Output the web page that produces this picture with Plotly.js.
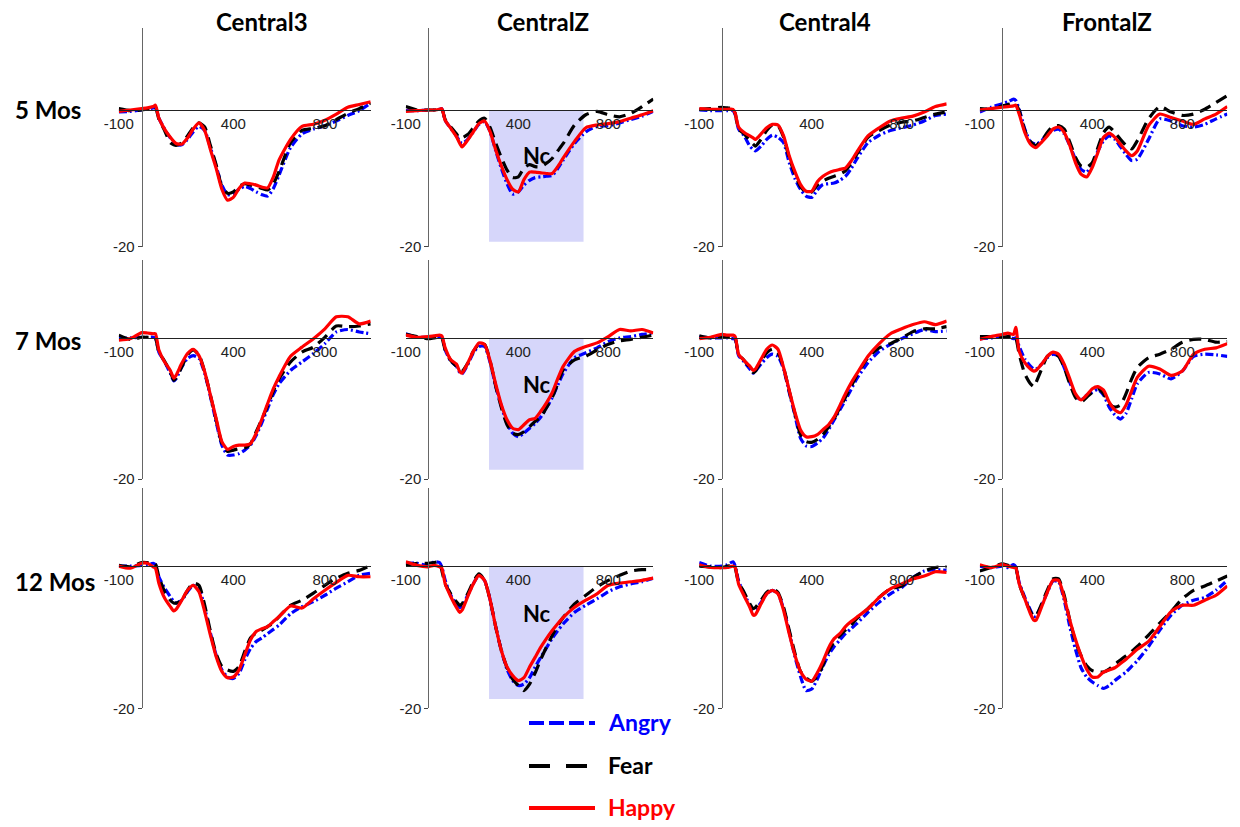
<!DOCTYPE html>
<html><head><meta charset="utf-8">
<script src="https://cdn.plot.ly/plotly-3.0.1.min.js"></script>
<style>html,body{margin:0;padding:0;background:#fff;}#chart{width:1240px;height:827px;}</style>
</head><body><div id="chart"></div>
<script>
// ---------- DATA ----------
const timeMs = [-100,-50,0,25,50,60,75,100,125,140,150,175,200,225,250,275,300,325,350,375,400,425,450,475,500,525,550,575,600,650,700,750,800,850,900,950,1000];
const electrodes = ['Central3','CentralZ','Central4','FrontalZ'];
const ages = ['5 Mos','7 Mos','12 Mos'];
const emotions = ['Angry','Fear','Happy'];
const xTickVals = [-100,400,800];
const xTickText = ['-100','400','800'];
const yTickVals = [-20];
const yTickText = ['-20'];
const ncLabel = 'Nc';

// 5 months
const m5_C3_angry = [-0.3,-0.2,0.0,0.1,0.3,0.4,-1.2,-2.8,-4.1,-4.7,-5.0,-5.1,-4.3,-3.2,-2.4,-3.0,-5.5,-8.2,-11.0,-12.4,-12.3,-11.6,-11.2,-11.5,-12.0,-12.4,-12.6,-11.5,-9.5,-5.5,-3.5,-2.8,-2.3,-1.6,-0.8,-0.1,1.0];
const m5_C3_fear  = [0.2,-0.1,0.0,0.1,0.3,0.4,-1.3,-3.0,-4.8,-5.1,-5.2,-4.8,-3.8,-2.6,-1.9,-2.5,-5.2,-8.0,-11.2,-12.2,-12.0,-11.2,-10.8,-11.0,-11.2,-11.5,-11.7,-10.8,-9.0,-4.8,-3.0,-2.7,-2.3,-1.4,-0.5,0.2,1.0];
const m5_C3_happy = [-0.2,0.0,0.2,0.3,0.5,0.7,-1.2,-2.8,-4.0,-4.6,-4.9,-5.0,-4.1,-2.8,-1.9,-3.0,-5.8,-8.5,-11.6,-13.2,-12.8,-11.5,-10.7,-10.8,-11.0,-11.3,-11.4,-9.8,-7.3,-4.3,-2.4,-2.1,-1.5,-0.6,0.4,0.8,1.2];
const m5_CZ_angry = [-0.1,-0.1,0.0,0.0,0.1,0.2,-1.5,-2.7,-3.8,-4.6,-4.9,-4.3,-3.2,-2.1,-1.7,-3.2,-6.0,-8.6,-10.8,-12.3,-12.0,-11.0,-10.3,-9.9,-9.8,-9.7,-9.6,-8.6,-7.3,-4.9,-3.2,-2.4,-2.3,-1.9,-1.4,-0.9,-0.2];
const m5_CZ_fear  = [0.5,0.0,0.0,0.0,0.1,0.2,-1.4,-2.5,-3.5,-4.1,-4.1,-3.6,-2.6,-1.6,-1.2,-2.6,-4.9,-7.0,-8.8,-9.9,-9.8,-8.5,-8.0,-8.3,-8.3,-7.8,-7.1,-6.0,-4.9,-2.2,-0.7,-0.2,-0.7,-1.0,-0.5,0.5,1.6];
const m5_CZ_happy = [-0.2,-0.1,0.0,0.0,0.1,0.2,-1.5,-2.7,-3.9,-4.9,-5.4,-4.4,-3.2,-2.0,-1.6,-3.2,-5.9,-8.2,-10.2,-11.6,-12.0,-10.2,-9.1,-9.1,-9.2,-9.3,-9.3,-8.3,-7.0,-4.6,-2.6,-2.2,-2.0,-1.7,-1.2,-0.7,-0.1];
const m5_C4_angry = [0.0,-0.1,-0.1,-0.1,-0.1,-0.7,-2.8,-3.8,-5.3,-5.8,-6.0,-5.3,-4.3,-3.7,-4.0,-4.8,-7.7,-10.0,-11.6,-12.6,-12.8,-11.7,-10.9,-10.8,-10.7,-10.3,-9.7,-8.6,-7.2,-4.8,-3.7,-3.0,-2.6,-2.2,-1.6,-0.8,-0.6];
const m5_C4_fear  = [0.1,0.2,0.4,0.3,0.2,-0.5,-2.8,-3.5,-4.5,-5.0,-5.3,-4.3,-3.0,-2.2,-2.3,-4.0,-7.0,-9.3,-11.2,-12.0,-12.0,-11.0,-10.4,-10.0,-9.7,-9.4,-8.9,-7.8,-6.5,-4.0,-3.0,-2.2,-1.8,-1.6,-1.1,-0.6,-0.3];
const m5_C4_happy = [0.2,0.1,0.1,0.1,0.1,-0.5,-2.5,-3.3,-3.8,-4.1,-4.3,-3.5,-2.6,-2.1,-2.2,-3.8,-6.7,-9.0,-10.9,-11.9,-11.9,-10.5,-9.7,-9.2,-8.9,-8.7,-8.5,-7.5,-6.2,-3.8,-2.6,-1.6,-1.2,-0.9,-0.3,0.5,0.9];
const m5_FZ_angry = [-0.3,0.4,0.9,1.2,1.6,1.4,0.1,-2.8,-4.7,-4.9,-5.0,-4.5,-3.5,-3.0,-2.8,-3.5,-5.2,-7.2,-8.7,-9.1,-7.9,-6.0,-4.5,-3.8,-4.3,-5.4,-6.5,-7.4,-7.2,-4.3,-1.3,-1.6,-2.3,-2.5,-2.1,-1.3,-0.6];
const m5_FZ_fear  = [0.2,0.1,0.6,0.8,1.0,0.8,-0.1,-3.0,-4.6,-5.1,-5.2,-4.5,-3.3,-2.4,-2.3,-2.8,-4.7,-6.9,-8.2,-8.4,-7.7,-5.5,-3.3,-2.5,-3.3,-4.3,-5.2,-5.7,-4.5,-1.3,0.5,-0.3,-0.8,-0.6,0.1,1.1,2.1];
const m5_FZ_happy = [0.0,0.2,0.4,0.5,0.6,0.7,-0.6,-3.3,-5.0,-5.4,-5.5,-4.7,-3.8,-2.8,-2.5,-3.3,-5.2,-7.7,-9.4,-9.8,-8.4,-6.2,-4.0,-3.4,-4.0,-5.0,-6.0,-6.7,-6.0,-2.3,-0.6,-1.1,-1.6,-2.1,-1.3,-0.6,0.5];

// 7 months
const m7_C3_angry = [-0.1,0.0,0.1,0.1,0.1,0.0,-2.0,-3.4,-5.0,-6.1,-5.8,-4.1,-2.9,-2.5,-2.9,-5.0,-8.3,-11.9,-15.2,-16.6,-16.6,-16.4,-15.9,-15.2,-13.8,-12.0,-10.0,-8.0,-6.5,-4.6,-3.4,-2.2,-0.8,0.85,1.2,0.85,0.6];
const m7_C3_fear  = [0.4,-0.2,0.1,0.1,0.1,0.0,-2.0,-3.3,-4.8,-6.0,-5.7,-4.1,-2.4,-1.7,-2.4,-4.8,-8.1,-11.6,-14.9,-16.1,-15.9,-15.7,-15.6,-15.0,-13.3,-11.5,-9.6,-7.5,-5.8,-3.4,-2.0,-1.3,0.1,1.7,1.6,1.7,2.0];
const m7_C3_happy = [-0.3,-0.1,0.75,0.7,0.6,0.6,-1.7,-3.4,-4.6,-5.7,-5.3,-3.6,-2.2,-1.6,-2.5,-4.8,-8.1,-11.4,-14.7,-15.8,-15.4,-15.2,-15.2,-15.0,-13.5,-11.5,-9.3,-7.2,-5.5,-2.6,-1.3,-0.1,1.3,3.0,3.0,2.0,2.4];
const m7_CZ_angry = [0.6,0.1,0.1,0.2,0.2,0.1,-1.7,-3.3,-4.0,-4.9,-5.1,-3.8,-2.1,-1.2,-1.2,-3.5,-6.9,-9.7,-12.1,-13.5,-14.0,-13.5,-12.8,-12.1,-11.2,-9.9,-8.5,-6.7,-5.0,-2.8,-2.1,-1.4,-0.5,0.0,0.2,0.5,0.7];
const m7_CZ_fear  = [0.5,0.2,-0.1,0.0,0.1,0.0,-1.7,-3.2,-4.0,-4.6,-4.7,-3.6,-1.9,-0.9,-0.9,-3.3,-6.9,-9.9,-12.3,-13.5,-13.7,-13.3,-12.6,-11.8,-11.2,-9.9,-8.5,-6.5,-4.5,-3.1,-2.6,-1.7,-0.9,-0.4,-0.2,0.1,0.4];
const m7_CZ_happy = [0.4,0.1,0.2,0.3,0.4,0.3,-1.4,-3.1,-3.7,-4.8,-5.0,-3.6,-1.9,-0.7,-0.9,-3.3,-6.6,-9.5,-11.6,-12.8,-13.0,-12.3,-11.6,-11.4,-10.4,-9.2,-7.8,-5.8,-4.0,-1.9,-1.2,-0.7,0.2,1.2,1.0,1.2,0.7];
const m7_C4_angry = [0.2,0.0,0.0,0.0,-0.1,-0.2,-2.5,-3.4,-4.4,-5.0,-4.7,-3.7,-2.8,-2.3,-2.6,-4.4,-7.7,-10.9,-14.2,-15.3,-15.4,-14.9,-14.2,-13.0,-11.6,-10.2,-8.8,-7.3,-5.8,-3.5,-1.9,-0.9,-0.1,0.6,1.2,0.9,1.0];
const m7_C4_fear  = [0.3,0.0,0.2,0.2,0.2,0.0,-2.3,-3.2,-4.2,-4.9,-4.7,-3.3,-2.1,-1.6,-2.1,-4.2,-7.5,-10.7,-13.7,-14.7,-14.8,-14.4,-13.7,-12.6,-11.4,-9.9,-8.4,-6.9,-5.3,-2.8,-1.4,-0.8,0.0,0.9,1.3,1.3,1.6];
const m7_C4_happy = [-0.1,0.1,0.5,0.4,0.4,0.2,-2.3,-3.2,-4.0,-4.6,-4.4,-3.0,-1.6,-1.0,-1.6,-4.2,-7.4,-10.5,-13.0,-14.0,-14.0,-13.7,-13.0,-12.3,-11.2,-9.6,-7.9,-6.4,-5.1,-2.6,-0.8,0.6,1.3,1.9,2.3,1.9,2.4];
const m7_FZ_angry = [-0.1,0.0,0.2,0.2,-0.1,0.0,-1.2,-3.0,-4.0,-4.4,-4.4,-3.7,-2.8,-2.3,-2.6,-4.2,-6.3,-8.1,-8.8,-8.1,-7.7,-7.3,-8.1,-9.8,-10.9,-11.5,-10.7,-8.6,-6.5,-4.9,-5.1,-5.8,-4.7,-2.6,-2.3,-2.4,-2.6];
const m7_FZ_fear  = [0.2,0.2,0.1,0.2,0.2,0.0,-2.3,-5.1,-6.5,-6.9,-6.3,-4.4,-2.6,-2.1,-2.6,-4.2,-6.5,-8.4,-9.1,-8.4,-7.7,-7.2,-7.9,-9.3,-9.8,-9.5,-7.9,-5.8,-4.2,-2.8,-2.3,-1.6,-0.6,-0.2,-0.2,-0.6,-0.5];
const m7_FZ_happy = [-0.2,0.2,0.5,0.7,0.5,1.5,-1.9,-3.5,-4.4,-4.7,-4.6,-3.7,-2.6,-2.0,-2.3,-3.7,-5.8,-7.9,-8.8,-8.1,-7.2,-6.9,-7.4,-9.1,-10.2,-10.6,-9.5,-7.5,-5.6,-4.0,-4.4,-5.3,-4.7,-2.3,-1.6,-1.4,-0.8];

// 12 months
const m12_C3_angry = [0.0,0.0,0.1,0.2,0.4,0.2,-1.5,-3.1,-4.3,-5.0,-5.2,-4.8,-3.6,-2.7,-3.1,-5.9,-9.4,-12.5,-14.6,-15.6,-15.8,-15.1,-13.2,-11.6,-10.6,-10.1,-9.5,-8.9,-8.3,-6.7,-5.7,-5.0,-4.1,-3.1,-2.2,-1.3,-1.0];
const m12_C3_fear  = [0.1,-0.1,0.5,0.5,0.5,0.3,-1.5,-3.6,-4.8,-5.2,-5.2,-4.8,-3.4,-2.4,-2.7,-5.5,-9.2,-12.3,-14.1,-14.6,-14.8,-14.1,-12.0,-10.1,-9.4,-9.0,-8.5,-8.0,-7.1,-5.5,-4.8,-3.8,-2.7,-1.7,-1.0,-0.6,0.1];
const m12_C3_happy = [0.0,-0.3,0.4,0.4,-0.1,-0.3,-2.4,-4.5,-5.7,-6.3,-6.1,-4.8,-3.4,-2.7,-3.6,-6.4,-9.7,-12.7,-14.8,-15.7,-15.6,-14.6,-12.5,-10.4,-9.2,-8.8,-8.5,-7.8,-7.1,-5.6,-5.9,-4.6,-3.4,-2.3,-1.3,-1.5,-1.5];
const m12_CZ_angry = [0.4,0.4,0.1,0.6,0.5,-0.1,-2.0,-4.1,-5.3,-5.8,-5.7,-4.1,-2.5,-1.3,-2.0,-4.8,-8.6,-11.9,-14.5,-16.1,-16.8,-16.6,-15.7,-14.2,-12.8,-11.5,-10.2,-9.1,-8.1,-6.5,-5.5,-4.6,-3.6,-2.9,-2.5,-2.2,-1.7];
const m12_CZ_fear  = [0.1,0.4,0.4,0.5,0.6,-0.6,-2.5,-3.9,-5.0,-5.5,-5.3,-3.9,-2.2,-1.1,-2.0,-4.8,-8.6,-11.9,-14.3,-15.9,-16.8,-17.5,-16.6,-15.0,-13.1,-11.4,-9.8,-8.4,-7.2,-5.3,-4.1,-2.9,-2.0,-1.3,-0.7,-0.5,-0.5];
const m12_CZ_happy = [0.6,0.1,-0.1,0.1,-0.1,-0.3,-2.5,-4.3,-5.8,-6.5,-6.2,-4.3,-2.5,-1.3,-2.0,-4.8,-8.6,-11.9,-14.2,-15.4,-16.1,-15.7,-14.2,-12.8,-11.4,-10.2,-9.1,-8.1,-7.2,-5.8,-4.8,-3.9,-2.7,-2.4,-2.2,-2.0,-1.7];
const m12_C4_angry = [0.5,0.0,0.0,0.2,0.6,0.0,-2.1,-3.9,-5.5,-6.2,-6.1,-5.1,-3.9,-3.4,-3.9,-6.0,-9.2,-12.7,-15.5,-17.5,-17.3,-15.9,-14.1,-12.5,-11.3,-10.4,-9.5,-8.8,-8.1,-6.5,-5.1,-3.9,-3.0,-1.6,-0.7,-0.5,-0.6];
const m12_C4_fear  = [0.0,-0.1,-0.2,0.0,0.1,-0.3,-2.3,-3.7,-5.3,-6.0,-5.8,-4.8,-3.7,-3.2,-3.7,-5.8,-9.0,-12.2,-14.8,-15.7,-16.2,-15.5,-13.9,-12.0,-10.6,-9.8,-9.0,-8.3,-7.4,-6.0,-4.4,-3.2,-2.8,-1.6,-0.7,-0.2,-0.1];
const m12_C4_happy = [0.2,-0.2,-0.2,-0.2,0.0,-0.2,-2.5,-4.2,-5.8,-6.9,-6.8,-5.3,-3.9,-3.4,-3.9,-6.2,-9.5,-12.5,-14.8,-15.9,-16.2,-15.0,-13.4,-11.5,-10.2,-9.5,-8.5,-7.8,-7.2,-6.0,-4.4,-3.2,-2.5,-1.8,-1.4,-0.8,-0.9];
const m12_FZ_angry = [0.0,-0.2,0.0,-0.2,0.2,-0.1,-2.3,-4.4,-6.2,-7.1,-7.0,-5.5,-3.7,-2.1,-2.2,-4.8,-8.5,-11.7,-14.3,-15.6,-16.3,-16.8,-17.2,-16.8,-16.1,-15.5,-14.9,-14.1,-13.3,-11.3,-9.0,-6.9,-5.5,-4.8,-4.4,-3.4,-2.0];
const m12_FZ_fear  = [-0.7,-0.2,0.3,0.1,0.0,-0.2,-2.5,-4.6,-6.4,-7.1,-7.0,-5.3,-3.4,-1.8,-1.8,-4.1,-7.6,-10.6,-12.6,-14.0,-14.7,-14.9,-14.9,-14.5,-13.8,-13.2,-12.6,-12.0,-11.3,-9.7,-8.0,-6.4,-4.6,-3.4,-2.8,-2.1,-1.4];
const m12_FZ_happy = [0.2,-0.2,0.2,0.0,-0.2,-0.2,-2.5,-4.6,-6.7,-7.6,-7.6,-5.7,-3.7,-2.0,-2.0,-4.4,-7.6,-10.3,-12.6,-14.5,-15.6,-15.6,-14.9,-14.6,-14.3,-13.7,-13.1,-12.4,-11.7,-10.6,-8.5,-6.4,-5.5,-5.5,-4.8,-4.1,-2.8];

// Nc window (ms) and its depth per row (µV)
const ncWindow = [270, 690];
const ncDepth = [-19.3, -18.7, -18.7];

// ---------- ASSEMBLY ----------
const panels = [
  [[m5_C3_angry,m5_C3_fear,m5_C3_happy],[m5_CZ_angry,m5_CZ_fear,m5_CZ_happy],[m5_C4_angry,m5_C4_fear,m5_C4_happy],[m5_FZ_angry,m5_FZ_fear,m5_FZ_happy]],
  [[m7_C3_angry,m7_C3_fear,m7_C3_happy],[m7_CZ_angry,m7_CZ_fear,m7_CZ_happy],[m7_C4_angry,m7_C4_fear,m7_C4_happy],[m7_FZ_angry,m7_FZ_fear,m7_FZ_happy]],
  [[m12_C3_angry,m12_C3_fear,m12_C3_happy],[m12_CZ_angry,m12_CZ_fear,m12_CZ_happy],[m12_C4_angry,m12_C4_fear,m12_C4_happy],[m12_FZ_angry,m12_FZ_fear,m12_FZ_happy]]
];

const W = 1240, H = 827;
const xRange = [-100, 1000];
const colPx = [[118.8,370.7],[405.8,653.3],[699.2,946.7],[979.8,1227.3]];
const rowPx = [{top:28,bottom:246.6,ymax:12},{top:260.4,bottom:479,ymax:11},{top:487.9,bottom:708.3,ymax:11}];
const titleX = [262, 543, 825, 1107];
const ageY = [110, 340, 581];
const styles = {
  Angry: {color:'#0000ff', dash:'8px,3px,2px,3px', legDash:'15px,5px'},
  Fear:  {color:'#000000', dash:'12px,7px', legDash:'21px,16px'},
  Happy: {color:'#ff0000', dash:'solid', legDash:'solid'}
};
const tickFont = {family:'"Liberation Sans", Arial, sans-serif', size:15, color:'#222'};
const boldFam = 'Lato, "Open Sans", sans-serif';

const traces = [];
const layout = {
  width:W, height:H, margin:{l:0,r:0,t:0,b:0}, showlegend:false,
  paper_bgcolor:'#ffffff', plot_bgcolor:'rgba(0,0,0,0)', shapes:[], annotations:[]
};

for (let r = 0; r < 3; r++) {
  for (let c = 0; c < 4; c++) {
    const idx = r*4 + c + 1;
    const sfx = idx === 1 ? '' : String(idx);
    const xd = [colPx[c][0]/W, colPx[c][1]/W];
    const yd = [1 - rowPx[r].bottom/H, 1 - rowPx[r].top/H];
    const yr = [-20, rowPx[r].ymax];
    const posY = yd[0] + (0 - yr[0])/(yr[1]-yr[0])*(yd[1]-yd[0]);
    const posX = xd[0] + (0 - xRange[0])/(xRange[1]-xRange[0])*(xd[1]-xd[0]);
    layout['xaxis'+sfx] = {domain:xd, range:xRange, anchor:'free', position:posY,
      showline:true, linecolor:'#222', linewidth:1, showgrid:false, zeroline:false,
      ticks:'', tickmode:'array', tickvals:xTickVals, ticktext:xTickText, tickfont:tickFont, fixedrange:true};
    layout['yaxis'+sfx] = {domain:yd, range:yr, anchor:'free', position:posX,
      showline:true, linecolor:'#666', linewidth:1, showgrid:false, zeroline:false,
      ticks:'outside', ticklen:4, tickcolor:'#444', tickmode:'array', tickvals:yTickVals, ticktext:yTickText,
      tickfont:tickFont, fixedrange:true};
    emotions.forEach((em, k) => {
      const st = styles[em];
      traces.push({x:timeMs, y:panels[r][c][k], xaxis:'x'+sfx, yaxis:'y'+sfx, type:'scatter', mode:'lines',
        name:em, hoverinfo:'skip',
        line:{color:st.color, dash:st.dash, width:3.2, shape:'spline', smoothing:0.6}});
    });
    if (c === 1) {
      layout.shapes.push({type:'rect', xref:'x'+sfx, yref:'y'+sfx, x0:ncWindow[0], x1:ncWindow[1],
        y0:ncDepth[r], y1:0, fillcolor:'rgb(214,214,250)', line:{width:0}, layer:'below'});
      layout.annotations.push({xref:'x'+sfx, yref:'y'+sfx, x:485, y:-6.6, text:'<b>'+ncLabel+'</b>',
        showarrow:false, xanchor:'center', yanchor:'middle', font:{family:boldFam, size:22, color:'#000'}});
    }
  }
}

electrodes.forEach((t, c) => {
  layout.annotations.push({xref:'paper', yref:'paper', x:titleX[c]/W, y:1-22/H, text:'<b>'+t+'</b>',
    showarrow:false, xanchor:'center', yanchor:'middle', font:{family:boldFam, size:24, color:'#000'}});
});
ages.forEach((a, r) => {
  layout.annotations.push({xref:'paper', yref:'paper', x:13/W, y:1-ageY[r]/H, text:'<b>'+a+'</b>',
    showarrow:false, xanchor:'left', yanchor:'middle', font:{family:boldFam, size:24, color:'#000'}});
});

const legY = [723, 766, 808];
emotions.forEach((em, k) => {
  const st = styles[em];
  layout.shapes.push({type:'line', xref:'paper', yref:'paper', x0:529/W, x1:595/W, y0:1-legY[k]/H, y1:1-legY[k]/H,
    line:{color:st.color, width:4, dash:st.legDash}});
  layout.annotations.push({xref:'paper', yref:'paper', x:606/W, y:1-(legY[k]-1)/H, text:'<b>'+em+'</b>',
    showarrow:false, xanchor:'left', yanchor:'middle', font:{family:boldFam, size:23, color:st.color}});
});

Plotly.newPlot('chart', traces, layout, {staticPlot:true, displayModeBar:false});
</script>
</body></html>
